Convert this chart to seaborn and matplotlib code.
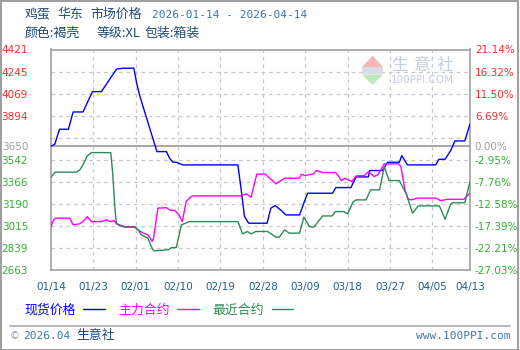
import numpy as np
import pandas as pd
import matplotlib
matplotlib.use("Agg")
import matplotlib.pyplot as plt
import seaborn as sns
from matplotlib.lines import Line2D
from matplotlib.patches import Polygon, Rectangle

# ---------------- data ----------------
title_main = "鸡蛋 华东 市场价格"
title_dates = "2026-01-14 - 2026-04-14"
subtitle = "颜色:褐壳 等级:XL 包装:箱装"
start_date = "2026-01-14"
x_ticklabels = ["01/14", "01/23", "02/01", "02/10", "02/19", "02/28",
                "03/09", "03/18", "03/27", "04/05", "04/13"]
base_price = 3650
y_ticks = [4421, 4245, 4069, 3894, 3650, 3542, 3366, 3190, 3015, 2839, 2663]
pct_labels = ["21.14%", "16.32%", "11.50%", "6.69%", "0.00%", "-2.95%",
              "-7.76%", "-12.58%", "-17.39%", "-22.21%", "-27.03%"]
grid_levels = [4245, 4069, 3894, 3718, 3542, 3366, 3190, 3015, 2839]
series_names = ["现货价格", "主力合约", "最近合约"]

# day offsets from start_date and prices
spot_day = [0, 0.8, 1.8, 3.7, 4.7, 6.8, 8.8, 10.7, 13.9, 15.3, 17.6, 18.2, 18.9,
            22.5, 24.5, 25.2, 25.9, 26.6, 28.0, 39.7, 40.4, 41.1, 42.0, 45.9,
            46.7, 47.6, 48.7, 49.9, 52.8, 53.7, 54.5, 59.8, 60.5, 63.7, 64.8,
            67.4, 67.7, 70.4, 71.5, 74.0, 74.5, 75.7, 81.7, 82.4, 83.7, 84.9,
            85.8, 87.9, 89]
spot_val = [3650, 3665, 3785, 3785, 3923, 3923, 4085, 4085, 4264, 4272, 4272, 4152, 4045,
            3607, 3607, 3554, 3522, 3522, 3501, 3501, 3302, 3089, 3036, 3036,
            3156, 3177, 3144, 3102, 3102, 3196, 3275, 3275, 3320, 3320, 3405,
            3405, 3456, 3456, 3522, 3522, 3575, 3501, 3501, 3546, 3546, 3615,
            3692, 3692, 3828]

main_day = [0, 0.5, 1.0, 4.0, 4.7, 6.1, 6.8, 7.7, 8.6, 10.7, 11.8, 12.5, 13.4, 13.9,
            15.7, 17.8, 18.5, 19.6, 20.6, 21.5, 21.8, 22.7, 24.5, 25.2, 26.3, 27.2,
            27.9, 28.7, 29.6, 30.1, 40.4, 41.5, 42.5, 43.7, 45.5, 47.8, 49.6, 52.8,
            53.2, 53.9, 55.6, 56.4, 57.7, 60.5, 61.7, 62.4, 63.9, 64.8, 66.6, 67.4,
            68.6, 69.4, 70.8, 73.8, 74.3, 75.2, 75.9, 76.6, 77.8, 81.7, 82.8, 84.2,
            87.7, 89]
main_val = [3009, 3060, 3076, 3076, 3023, 3031, 3049, 3089, 3049, 3049, 3063, 3049, 3057, 3031,
            3009, 3009, 2983, 2957, 2943, 2890, 2920, 3156, 3160, 3142, 3137, 3102,
            3049, 3208, 3243, 3254, 3254, 3270, 3243, 3427, 3427, 3350, 3395, 3395,
            3427, 3416, 3427, 3456, 3440, 3440, 3376, 3395, 3368, 3413, 3416, 3448,
            3408, 3421, 3509, 3509, 3490, 3300, 3227, 3222, 3236, 3236, 3216, 3227,
            3227, 3275]

near_day = [0, 0.85, 5.3, 6.1, 6.8, 7.7, 8.6, 12.7, 13.1, 13.6, 13.9, 14.6, 15.7, 17.8,
            18.5, 19.2, 20.6, 21.3, 21.8, 24.9, 25.6, 26.6, 27.7, 29.4, 39.7, 40.7,
            41.7, 42.5, 43.5, 46.0, 47.8, 48.5, 49.6, 50.6, 52.8, 53.7, 54.9, 55.8,
            57.7, 59.7, 60.4, 62.2, 63.0, 64.2, 64.8, 66.9, 67.9, 69.8, 70.8, 71.8,
            74.0, 75.4, 76.8, 78.0, 82.5, 83.7, 84.9, 85.3, 87.9, 89]
near_val = [3403, 3443, 3443, 3460, 3501, 3573, 3599, 3599, 3435, 3142, 3036, 3015, 3004, 3004,
            2983, 2943, 2917, 2850, 2816, 2824, 2842, 2842, 3023, 3049, 3049, 2951,
            2970, 2951, 2970, 2970, 2925, 2925, 2983, 2957, 2957, 3084, 3009, 3004,
            3094, 3094, 3129, 3129, 3110, 3208, 3222, 3222, 3302, 3302, 3487, 3376,
            3376, 3275, 3116, 3174, 3174, 3068, 3188, 3199, 3199, 3368]

# ---------------- style ----------------
sns.set_style("white")
plt.rcParams["font.family"] = ["DejaVu Sans", "Noto Sans CJK SC"]
CJK = ["Noto Sans CJK SC", "DejaVu Sans"]

W, H = 520, 350
fig = plt.figure(figsize=(W / 100, H / 100), dpi=100)
fig.patch.set_facecolor("white")

def fx(px):
    return px / W

def fy(py):
    return 1 - py / H

L, R, T, B = 51, 470, 49.5, 270
ax = fig.add_axes([fx(L), fy(B), fx(R - L), (B - T) / H])
ax.set_facecolor("white")

colors = ["#0000ff", "#ff00ff", "#2e8b57"]
days_list = [spot_day, main_day, near_day]
vals_list = [spot_val, main_val, near_val]

start = pd.Timestamp(start_date)
tick_days = [(pd.Timestamp("2026/" + t) - start).days for t in x_ticklabels]

ax.set_xlim(tick_days[0], tick_days[-1])
ax.set_ylim(min(y_ticks), max(y_ticks))

grid_kw = dict(color="#c8c8c8", lw=0.9, ls=(0, (3, 3)), zorder=1)
for g in grid_levels:
    ax.axhline(g, **grid_kw)
for d in tick_days[1:-1]:
    ax.axvline(d, **grid_kw)
ax.axhline(base_price, color="#a0a0a0", lw=1.3, zorder=2)

handles = []
for name, c, dd, vv in zip(series_names, colors, days_list, vals_list):
    df = pd.DataFrame({"day": dd, "price": vv})
    sns.lineplot(data=df, x="day", y="price", ax=ax, color=c, lw=1.0,
                 estimator=None, sort=False, zorder=3)
    handles.append(Line2D([], [], color=c, lw=1.0, label=name))

for s in ax.spines.values():
    s.set_color("#a0a0a0")
    s.set_linewidth(1.2)

ax.set_xlabel("")
ax.set_ylabel("")
ax.set_xticks(tick_days)
ax.set_xticklabels(x_ticklabels)
ax.tick_params(axis="x", length=0, pad=8.5, labelsize=7.5, labelcolor="#1f5f8b")

def tick_color(v):
    if v > base_price:
        return "#ff2a2a"
    if v == base_price:
        return "#a0a0a0"
    return "#33b033"

ax.set_yticks(y_ticks)
ax.set_yticklabels([str(v) for v in y_ticks])
ax.tick_params(axis="y", length=0, pad=16.5, labelsize=7.5)
for lab, v in zip(ax.get_yticklabels(), y_ticks):
    lab.set_color(tick_color(v))

ax2 = ax.twinx()
ax2.set_ylim(ax.get_ylim())
ax2.set_yticks(y_ticks)
ax2.set_yticklabels(pct_labels)
ax2.tick_params(axis="y", length=0, pad=3.5, labelsize=7.5)
for lab, v in zip(ax2.get_yticklabels(), y_ticks):
    lab.set_color(tick_color(v))
for s in ax2.spines.values():
    s.set_visible(False)

# ---------------- watermark ----------------
wm = "#c5cde0"
fig.add_artist(Polygon([[fx(362), fy(67)], [fx(383), fy(67)], [fx(372.5), fy(55.5)]],
                       closed=True, transform=fig.transFigure, fc="#f4b8b8", ec="none", zorder=2))
fig.add_artist(Rectangle((fx(362), fy(74)), fx(21), 7 / H, transform=fig.transFigure,
                         fc="#d8dce6", ec="none", zorder=2))
fig.add_artist(Polygon([[fx(362), fy(74.5)], [fx(383), fy(74.5)], [fx(372.5), fy(85)]],
                       closed=True, transform=fig.transFigure, fc="#bfe6bf", ec="none", zorder=2))
for ch, xc in zip("生意社", [399, 422, 445]):
    fig.text(fx(xc), fy(65.5), ch, ha="center", va="center", fontsize=12,
             color=wm, family=CJK, zorder=2)
fig.text(fx(422.5), fy(80), "100PPI.COM", ha="center", va="center", fontsize=7.5,
         color=wm, zorder=2)

# ---------------- titles ----------------
for part, xp in zip(title_main.split(" "), [25, 57, 90]):
    fig.text(fx(xp), fy(14.7), part, ha="left", va="center", fontsize=9.3,
             color="#1e4a7a", family=CJK)
fig.text(fx(152), fy(14.7), title_dates, ha="left", va="center", fontsize=8,
         color="#3a78a8", family="DejaVu Sans Mono")
for part, xp in zip(subtitle.split(" "), [25, 97, 145]):
    fig.text(fx(xp), fy(33), part, ha="left", va="center", fontsize=9.3,
             color="#1e4a7a", family=CJK)

# ---------------- legend ----------------
leg = fig.legend(handles=handles, loc="center left",
                 bbox_to_anchor=(fx(24), fy(310.5)), ncol=3, frameon=False,
                 markerfirst=False, handlelength=1.65, handletextpad=0.6,
                 columnspacing=1.05, borderpad=0, borderaxespad=0,
                 prop={"family": CJK, "size": 9.3})
for t, c in zip(leg.get_texts(), colors):
    t.set_color(c)

# ---------------- footer ----------------
fig.add_artist(Line2D([fx(10), fx(510)], [fy(326), fy(326)], color="#aaaaaa", lw=1.2,
                      transform=fig.transFigure))
fig.text(fx(10), fy(336), "©", ha="left", va="center", fontsize=7, color="#8aa0b8")
fig.text(fx(23), fy(336), "2026.04", ha="left", va="center", fontsize=8,
         color="#3a78a8", family="DejaVu Sans Mono")
fig.text(fx(76), fy(336), "生意社", ha="left", va="center", fontsize=9.3,
         color="#1e4a7a", family=CJK)
fig.text(fx(510), fy(336), "www.100PPI.com", ha="right", va="center", fontsize=8,
         color="#3a78a8", family="DejaVu Sans Mono")

# outer frame
fc = "#a0a0a0"
for xs, ys in [([0.5, 0.5], [0.5, 349.5]), ([0.5, 518], [349.5, 349.5]),
               ([518, 518], [349.5, 0.5]), ([0.5, 518], [0.5, 0.5])]:
    fig.add_artist(Line2D([fx(x) for x in xs], [fy(y) for y in ys], color=fc, lw=1.5,
                          transform=fig.transFigure))

fig.savefig("out.png", dpi=100, facecolor="white")
